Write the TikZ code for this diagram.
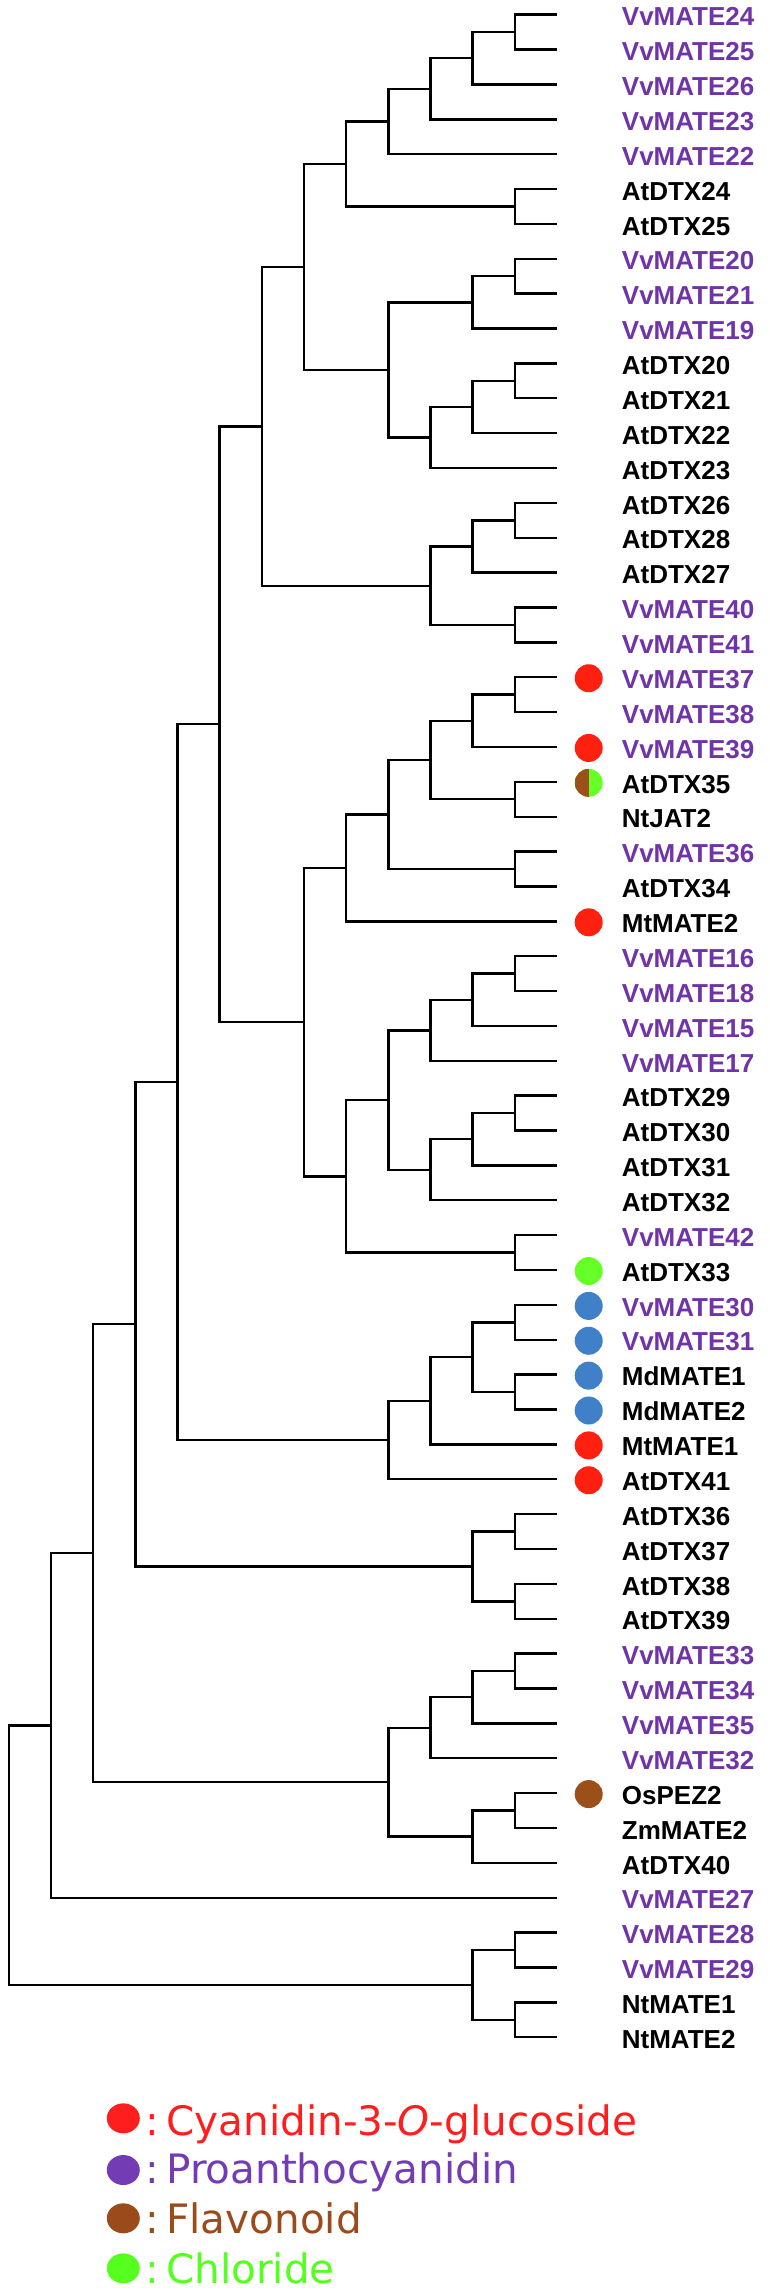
\documentclass[tikz,border=0pt]{standalone}
\usepackage{fontspec}
\usetikzlibrary{calc,shapes.geometric}
\newfontfamily\leaffont{Liberation Sans}
\newfontfamily\legfont{DejaVu Sans}[ItalicFont={DejaVu Sans Oblique}]
\definecolor{vvpurple}{RGB}{112,52,168}
\definecolor{dotred}{RGB}{255,32,16}
\definecolor{dotblue}{RGB}{64,128,200}
\definecolor{dotgreen}{RGB}{102,255,40}
\definecolor{dotbrown}{RGB}{155,80,25}
\definecolor{legred}{RGB}{255,30,30}
\definecolor{legpurple}{RGB}{115,60,180}
\definecolor{legbrown}{RGB}{155,75,25}
\definecolor{leggreen}{RGB}{85,255,30}
\tikzset{
  branch/.style={line width=2.4pt, black},
  leaflabel/.style={anchor=base west, inner sep=0pt, font=\leaffont\bfseries\fontsize{26}{30}\selectfont},
  dot/.style={circle, minimum size=28pt, inner sep=0pt},
  legdot/.style={ellipse, minimum width=33pt, minimum height=30pt, inner sep=0pt},
  legtext/.style={anchor=base west, inner sep=0pt, font=\legfont\fontsize{40.5}{48}\selectfont}
}
\newcommand\clade[4]{%
  \path ($(#3)!.5!(#4)$) coordinate (m#1);
  \coordinate (#1) at (m#1 -| X#2);
  \draw[branch] (#3) -| (#1) |- (#4);
}
\begin{document}
\begin{tikzpicture}
\useasboundingbox (0pt,0pt) rectangle (769pt,-2291pt);
\begin{scope}[x=-42.17pt, y=-34.87pt, shift={(557pt,-14.7pt)}]
\foreach \k in {1,...,13} \coordinate (X\k) at (\k,0);
\foreach \lab/\col [count=\i from 0] in {
  VvMATE24/vvpurple, VvMATE25/vvpurple, VvMATE26/vvpurple, VvMATE23/vvpurple, VvMATE22/vvpurple,
  AtDTX24/black, AtDTX25/black,
  VvMATE20/vvpurple, VvMATE21/vvpurple, VvMATE19/vvpurple,
  AtDTX20/black, AtDTX21/black, AtDTX22/black, AtDTX23/black, AtDTX26/black, AtDTX28/black, AtDTX27/black,
  VvMATE40/vvpurple, VvMATE41/vvpurple, VvMATE37/vvpurple, VvMATE38/vvpurple, VvMATE39/vvpurple,
  AtDTX35/black, NtJAT2/black, VvMATE36/vvpurple, AtDTX34/black, MtMATE2/black,
  VvMATE16/vvpurple, VvMATE18/vvpurple, VvMATE15/vvpurple, VvMATE17/vvpurple,
  AtDTX29/black, AtDTX30/black, AtDTX31/black, AtDTX32/black,
  VvMATE42/vvpurple, AtDTX33/black, VvMATE30/vvpurple, VvMATE31/vvpurple,
  MdMATE1/black, MdMATE2/black, MtMATE1/black, AtDTX41/black,
  AtDTX36/black, AtDTX37/black, AtDTX38/black, AtDTX39/black,
  VvMATE33/vvpurple, VvMATE34/vvpurple, VvMATE35/vvpurple, VvMATE32/vvpurple,
  OsPEZ2/black, ZmMATE2/black, AtDTX40/black,
  VvMATE27/vvpurple, VvMATE28/vvpurple, VvMATE29/vvpurple, NtMATE1/black, NtMATE2/black}{
  \coordinate (l\i) at (0,\i);
  \node[leaflabel, text=\col] (lab\i) at ([xshift=64.7pt,yshift=-11.2pt]l\i) {\lab};
}
\clade{a1}{1}{l0}{l1}
\clade{a2}{2}{a1}{l2}
\clade{a3}{3}{a2}{l3}
\clade{a4}{4}{a3}{l4}
\clade{b1}{1}{l5}{l6}
\clade{a5}{5}{a4}{b1}
\clade{c1}{1}{l7}{l8}
\clade{c2}{2}{c1}{l9}
\clade{d1}{1}{l10}{l11}
\clade{d2}{2}{d1}{l12}
\clade{d3}{3}{d2}{l13}
\clade{c4}{4}{c2}{d3}
\clade{a6}{6}{a5}{c4}
\clade{e1}{1}{l14}{l15}
\clade{e2}{2}{e1}{l16}
\clade{f1}{1}{l17}{l18}
\clade{e3}{3}{e2}{f1}
\clade{a7}{7}{a6}{e3}
\clade{g1}{1}{l19}{l20}
\clade{g2}{2}{g1}{l21}
\clade{h1}{1}{l22}{l23}
\clade{g3}{3}{g2}{h1}
\clade{i1}{1}{l24}{l25}
\clade{g4}{4}{g3}{i1}
\clade{g5}{5}{g4}{l26}
\clade{j1}{1}{l27}{l28}
\clade{j2}{2}{j1}{l29}
\clade{j3}{3}{j2}{l30}
\clade{k1}{1}{l31}{l32}
\clade{k2}{2}{k1}{l33}
\clade{k3}{3}{k2}{l34}
\clade{j4}{4}{j3}{k3}
\clade{m1}{1}{l35}{l36}
\clade{j5}{5}{j4}{m1}
\clade{g6}{6}{g5}{j5}
\clade{a8}{8}{a7}{g6}
\clade{n1}{1}{l37}{l38}
\clade{o1}{1}{l39}{l40}
\clade{n2}{2}{n1}{o1}
\clade{n3}{3}{n2}{l41}
\clade{n4}{4}{n3}{l42}
\clade{a9}{9}{a8}{n4}
\clade{p1}{1}{l43}{l44}
\clade{q1}{1}{l45}{l46}
\clade{p2}{2}{p1}{q1}
\clade{a10}{10}{a9}{p2}
\clade{r1}{1}{l47}{l48}
\clade{r2}{2}{r1}{l49}
\clade{r3}{3}{r2}{l50}
\clade{s1}{1}{l51}{l52}
\clade{s2}{2}{s1}{l53}
\clade{r4}{4}{r3}{s2}
\clade{a11}{11}{a10}{r4}
\clade{a12}{12}{a11}{l54}
\clade{t1}{1}{l55}{l56}
\clade{u1}{1}{l57}{l58}
\clade{t2}{2}{t1}{u1}
\clade{root}{13}{a12}{t2}
\foreach \i/\c in {19/dotred, 21/dotred, 26/dotred, 36/dotgreen, 37/dotblue, 38/dotblue, 39/dotblue, 40/dotblue, 41/dotred, 42/dotred, 51/dotbrown}
  \node[dot, fill=\c] (dot\i) at ([xshift=31.7pt,yshift=-1pt]l\i) {};
\node[dot, fill=dotgreen, path picture={\fill[dotbrown] (path picture bounding box.south west) rectangle (path picture bounding box.north);}] (dot22) at ([xshift=31.7pt,yshift=-1pt]l22) {};
\end{scope}
\node[legdot, fill=legred] (key1) at (123.3pt,-2118.3pt) {};
\node[legtext, text=legred] (keyt1) at (145pt,-2135pt) {:\hspace{7.5pt}Cyanidin-3-\textit{O}-glucoside};
\node[legdot, fill=legpurple] (key2) at (123.3pt,-2170pt) {};
\node[legtext, text=legpurple] (keyt2) at (145pt,-2183.3pt) {:\hspace{7.5pt}Proanthocyanidin};
\node[legdot, fill=legbrown] (key3) at (123.3pt,-2218.3pt) {};
\node[legtext, text=legbrown] (keyt3) at (145pt,-2233.3pt) {:\hspace{7.5pt}Flavonoid};
\node[legdot, fill=leggreen] (key4) at (123.3pt,-2268.3pt) {};
\node[legtext, text=leggreen] (keyt4) at (145pt,-2283.3pt) {:\hspace{7.5pt}Chloride};
\end{tikzpicture}
\end{document}
